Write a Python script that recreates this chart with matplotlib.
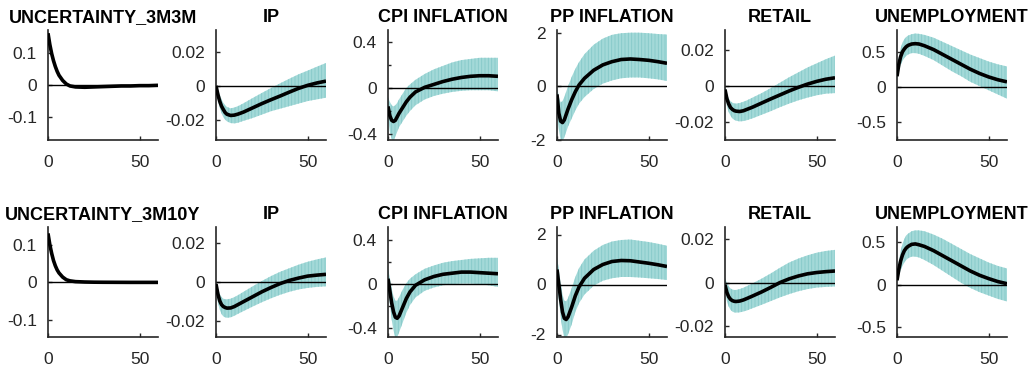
import matplotlib
matplotlib.use("Agg")
from matplotlib import pyplot as plt

plt.rcParams['font.family'] = ['Liberation Sans', 'DejaVu Sans']
plt.rcParams['axes.unicode_minus'] = False
plt.rcParams['hatch.linewidth'] = 0.6

# horizons (months)
h = [0, 1, 2, 3, 4, 5, 6, 8, 10, 12, 15, 20, 25, 30, 35, 40, 45, 50, 55, 60]

titles_top = ['UNCERTAINTY_3M3M', 'IP', 'CPI INFLATION', 'PP INFLATION', 'RETAIL', 'UNEMPLOYMENT']
titles_bot = ['UNCERTAINTY_3M10Y', 'IP', 'CPI INFLATION', 'PP INFLATION', 'RETAIL', 'UNEMPLOYMENT']

# ---- row 1: 3M3M shock ----
unc1_med = [0.16, 0.125, 0.097, 0.075, 0.057, 0.042, 0.03, 0.014, 0.003, -0.003, -0.006, -0.007, -0.006, -0.005, -0.004, -0.003, -0.003, -0.002, -0.002, -0.001]
unc1_hi = [0.164, 0.129, 0.101, 0.079, 0.061, 0.046, 0.034, 0.017, 0.006, 0.0, -0.003, -0.004, -0.004, -0.003, -0.002, -0.001, -0.001, 0.0, 0.0, 0.001]
unc1_lo = [0.156, 0.121, 0.093, 0.071, 0.053, 0.038, 0.026, 0.011, 0.0, -0.006, -0.009, -0.010, -0.009, -0.008, -0.006, -0.005, -0.005, -0.004, -0.004, -0.003]

ip1_med = [0.0, -0.005, -0.009, -0.012, -0.014, -0.0158, -0.0168, -0.0175, -0.0173, -0.0167, -0.0155, -0.013, -0.0105, -0.0082, -0.006, -0.0037, -0.0015, 0.0003, 0.0017, 0.0028]
ip1_hi = [0.0, -0.002, -0.005, -0.008, -0.010, -0.0115, -0.0125, -0.0133, -0.0128, -0.012, -0.0103, -0.0072, -0.0042, -0.0013, 0.0015, 0.0042, 0.0068, 0.009, 0.0113, 0.0135]
ip1_lo = [-0.001, -0.008, -0.013, -0.016, -0.0185, -0.020, -0.021, -0.022, -0.0222, -0.0218, -0.0207, -0.019, -0.017, -0.015, -0.0135, -0.012, -0.0105, -0.009, -0.008, -0.007]

cpi1_med = [-0.16, -0.24, -0.28, -0.29, -0.28, -0.25, -0.22, -0.17, -0.12, -0.08, -0.035, 0.005, 0.03, 0.055, 0.075, 0.09, 0.10, 0.105, 0.105, 0.10]
cpi1_hi = [-0.08, -0.12, -0.15, -0.16, -0.15, -0.13, -0.10, -0.05, 0.0, 0.03, 0.07, 0.12, 0.16, 0.19, 0.22, 0.24, 0.25, 0.26, 0.26, 0.26]
cpi1_lo = [-0.25, -0.38, -0.44, -0.46, -0.42, -0.38, -0.34, -0.29, -0.24, -0.20, -0.15, -0.10, -0.07, -0.05, -0.035, -0.025, -0.02, -0.02, -0.02, -0.03]

pp1_med = [-0.3, -1.0, -1.3, -1.35, -1.25, -1.05, -0.85, -0.5, -0.2, 0.05, 0.3, 0.6, 0.8, 0.92, 1.0, 1.02, 1.0, 0.97, 0.92, 0.86]
pp1_hi = [0.0, -0.4, -0.6, -0.55, -0.4, -0.2, 0.0, 0.35, 0.65, 0.9, 1.2, 1.55, 1.78, 1.92, 1.98, 2.0, 2.0, 1.98, 1.95, 1.93]
pp1_lo = [-0.7, -1.6, -2.0, -2.05, -1.9, -1.7, -1.5, -1.2, -0.9, -0.65, -0.4, -0.1, 0.1, 0.22, 0.3, 0.33, 0.33, 0.3, 0.26, 0.2]

ret1_med = [-0.002, -0.007, -0.010, -0.012, -0.013, -0.0137, -0.014, -0.0142, -0.0138, -0.013, -0.0118, -0.0095, -0.0072, -0.005, -0.0028, -0.0008, 0.001, 0.0025, 0.0037, 0.0045]
ret1_hi = [0.0, -0.004, -0.007, -0.0085, -0.0093, -0.0097, -0.0098, -0.0095, -0.0088, -0.008, -0.0065, -0.004, -0.0012, 0.0018, 0.0048, 0.0075, 0.0102, 0.0125, 0.0148, 0.0168]
ret1_lo = [-0.004, -0.011, -0.0145, -0.0165, -0.018, -0.0188, -0.0193, -0.0197, -0.0195, -0.019, -0.018, -0.016, -0.014, -0.0118, -0.0098, -0.008, -0.0065, -0.0052, -0.0043, -0.004]

une1_med = [0.15, 0.32, 0.43, 0.5, 0.54, 0.57, 0.59, 0.61, 0.615, 0.61, 0.585, 0.53, 0.46, 0.39, 0.32, 0.25, 0.19, 0.14, 0.10, 0.07]
une1_hi = [0.2, 0.42, 0.55, 0.63, 0.68, 0.71, 0.73, 0.75, 0.76, 0.755, 0.74, 0.70, 0.64, 0.58, 0.52, 0.46, 0.41, 0.36, 0.32, 0.29]
une1_lo = [0.1, 0.22, 0.31, 0.37, 0.41, 0.44, 0.46, 0.48, 0.48, 0.47, 0.44, 0.38, 0.30, 0.22, 0.15, 0.07, 0.01, -0.05, -0.11, -0.17]

# ---- row 2: 3M10Y shock ----
unc2_med = [0.13, 0.1, 0.077, 0.058, 0.044, 0.033, 0.025, 0.014, 0.007, 0.004, 0.002, 0.001, 0.0005, 0.0003, 0.0002, 0.0001, 0.0, 0.0, 0.0, 0.0]
unc2_hi = [0.133, 0.103, 0.080, 0.061, 0.047, 0.036, 0.028, 0.017, 0.010, 0.006, 0.004, 0.003, 0.002, 0.002, 0.002, 0.001, 0.001, 0.001, 0.001, 0.001]
unc2_lo = [0.127, 0.097, 0.074, 0.055, 0.041, 0.030, 0.022, 0.011, 0.004, 0.002, 0.0, -0.001, -0.001, -0.001, -0.001, -0.001, -0.001, -0.001, -0.001, -0.001]

ip2_med = [-0.001, -0.006, -0.0095, -0.0115, -0.0125, -0.013, -0.0133, -0.0132, -0.0125, -0.0115, -0.010, -0.0075, -0.005, -0.0028, -0.0008, 0.0008, 0.002, 0.003, 0.0035, 0.0039]
ip2_hi = [0.0, -0.003, -0.006, -0.0077, -0.0085, -0.0088, -0.0088, -0.0085, -0.0077, -0.0067, -0.005, -0.0022, 0.0005, 0.003, 0.0052, 0.007, 0.0088, 0.0103, 0.0115, 0.0125]
ip2_lo = [-0.002, -0.010, -0.014, -0.0163, -0.0175, -0.018, -0.0182, -0.018, -0.0172, -0.0162, -0.0148, -0.0125, -0.0103, -0.0083, -0.0065, -0.005, -0.0038, -0.003, -0.0025, -0.0022]

cpi2_med = [0.05, -0.06, -0.17, -0.25, -0.30, -0.31, -0.29, -0.21, -0.13, -0.07, -0.01, 0.04, 0.07, 0.09, 0.10, 0.11, 0.11, 0.105, 0.10, 0.095]
cpi2_hi = [0.14, 0.06, -0.04, -0.11, -0.15, -0.15, -0.12, -0.05, 0.01, 0.05, 0.09, 0.14, 0.17, 0.195, 0.21, 0.22, 0.23, 0.235, 0.24, 0.24]
cpi2_lo = [-0.05, -0.18, -0.32, -0.42, -0.49, -0.48, -0.44, -0.35, -0.26, -0.19, -0.12, -0.06, -0.03, -0.01, 0.0, 0.005, 0.005, 0.0, -0.01, -0.025]

pp2_med = [0.6, 0.0, -0.6, -1.1, -1.35, -1.4, -1.3, -0.9, -0.45, -0.1, 0.25, 0.6, 0.8, 0.92, 0.96, 0.95, 0.9, 0.85, 0.79, 0.72]
pp2_hi = [1.1, 0.6, 0.05, -0.4, -0.65, -0.67, -0.55, -0.15, 0.3, 0.65, 1.0, 1.35, 1.58, 1.72, 1.78, 1.8, 1.75, 1.7, 1.63, 1.55]
pp2_lo = [0.1, -0.6, -1.3, -1.8, -2.15, -2.15, -2.0, -1.6, -1.1, -0.75, -0.4, -0.05, 0.15, 0.25, 0.3, 0.3, 0.28, 0.25, 0.22, 0.18]

ret2_med = [-0.001, -0.0045, -0.0065, -0.0077, -0.0083, -0.0086, -0.0087, -0.0085, -0.008, -0.0073, -0.0062, -0.0043, -0.0022, 0.0, 0.0017, 0.003, 0.004, 0.0046, 0.005, 0.0053]
ret2_hi = [0.002, 0.0, -0.0017, -0.0027, -0.0032, -0.0034, -0.0034, -0.003, -0.0024, -0.0016, -0.0004, 0.0018, 0.0042, 0.0068, 0.0092, 0.011, 0.0125, 0.0137, 0.0145, 0.015]
ret2_lo = [-0.003, -0.0085, -0.011, -0.0125, -0.0133, -0.0137, -0.0138, -0.0137, -0.0133, -0.0128, -0.0118, -0.0102, -0.0085, -0.0068, -0.0053, -0.004, -0.003, -0.0023, -0.002, -0.0018]

une2_med = [0.05, 0.18, 0.28, 0.35, 0.40, 0.43, 0.45, 0.475, 0.48, 0.47, 0.45, 0.40, 0.34, 0.28, 0.22, 0.16, 0.11, 0.07, 0.035, 0.01]
une2_hi = [0.08, 0.27, 0.40, 0.48, 0.54, 0.58, 0.60, 0.63, 0.64, 0.64, 0.63, 0.59, 0.54, 0.48, 0.42, 0.36, 0.31, 0.26, 0.22, 0.19]
une2_lo = [0.03, 0.10, 0.17, 0.22, 0.26, 0.29, 0.31, 0.33, 0.33, 0.32, 0.29, 0.23, 0.16, 0.09, 0.02, -0.04, -0.09, -0.13, -0.17, -0.20]

rows = [
    [(unc1_med, unc1_lo, unc1_hi), (ip1_med, ip1_lo, ip1_hi), (cpi1_med, cpi1_lo, cpi1_hi),
     (pp1_med, pp1_lo, pp1_hi), (ret1_med, ret1_lo, ret1_hi), (une1_med, une1_lo, une1_hi)],
    [(unc2_med, unc2_lo, unc2_hi), (ip2_med, ip2_lo, ip2_hi), (cpi2_med, cpi2_lo, cpi2_hi),
     (pp2_med, pp2_lo, pp2_hi), (ret2_med, ret2_lo, ret2_hi), (une2_med, une2_lo, une2_hi)],
]
titles = [titles_top, titles_bot]

# axis limits and ticks per panel
ylims = [
    [(-0.17, 0.17), (-0.032, 0.033), (-0.45, 0.5), (-2.0, 2.1), (-0.03, 0.031), (-0.76, 0.81)],
    [(-0.145, 0.147), (-0.028, 0.028), (-0.48, 0.52), (-2.1, 2.3), (-0.025, 0.0255), (-0.62, 0.68)],
]
yticks = [[-0.1, 0, 0.1], [-0.02, 0, 0.02], [-0.4, 0, 0.4], [-2, 0, 2], [-0.02, 0, 0.02], [-0.5, 0, 0.5]]
yticklabels = [['-0.1', '0', '0.1'], ['-0.02', '0', '0.02'], ['-0.4', '0', '0.4'],
               ['-2', '0', '2'], ['-0.02', '0', '0.02'], ['-0.5', '0', '0.5']]

W, H = 1033, 372
fig = plt.figure(figsize=(W / 100, H / 100), dpi=100)
lefts = [48, 216, 388, 557, 725, 897]
tops = [30, 227]
aw, ah = 110, 110

band_face = '#a3d9d8'
band_hatch = '#85c9c9'
axis_col = '#262626'

for r in range(2):
    for c in range(6):
        ax = fig.add_axes([lefts[c] / W, 1 - (tops[r] + ah) / H, aw / W, ah / H])
        med, lo, hi = rows[r][c]
        ax.fill_between(h, lo, hi, facecolor=band_face, edgecolor=band_hatch,
                        hatch='|||||', linewidth=0, zorder=1)
        ax.axhline(0, color='black', lw=1.0, zorder=2)
        ax.plot(h, med, color='black', lw=2.6, zorder=3, solid_capstyle='butt')
        ax.set_xlim(0, 60)
        ax.set_ylim(*ylims[r][c])
        ax.set_xticks([0, 50])
        ax.set_xticklabels(['0', '50'])
        ax.set_yticks(yticks[c])
        ax.set_yticklabels(yticklabels[c])
        if c == 2:
            ax.set_yticks([-0.2, 0.2], minor=True)
        for s in ['top', 'right']:
            ax.spines[s].set_visible(False)
        for s in ['left', 'bottom']:
            ax.spines[s].set_color(axis_col)
            ax.spines[s].set_linewidth(1.2)
        ax.tick_params(direction='in', length=3, width=1, colors=axis_col,
                       labelsize=12.5, which='both')
        ax.tick_params(axis='y', pad=8)
        ax.tick_params(axis='x', pad=10.5)
        ax.tick_params(which='minor', length=2)
        ax.set_title(titles[r][c], fontsize=13, fontweight='bold', pad=5.5)

fig.savefig('out.png', dpi=100)
